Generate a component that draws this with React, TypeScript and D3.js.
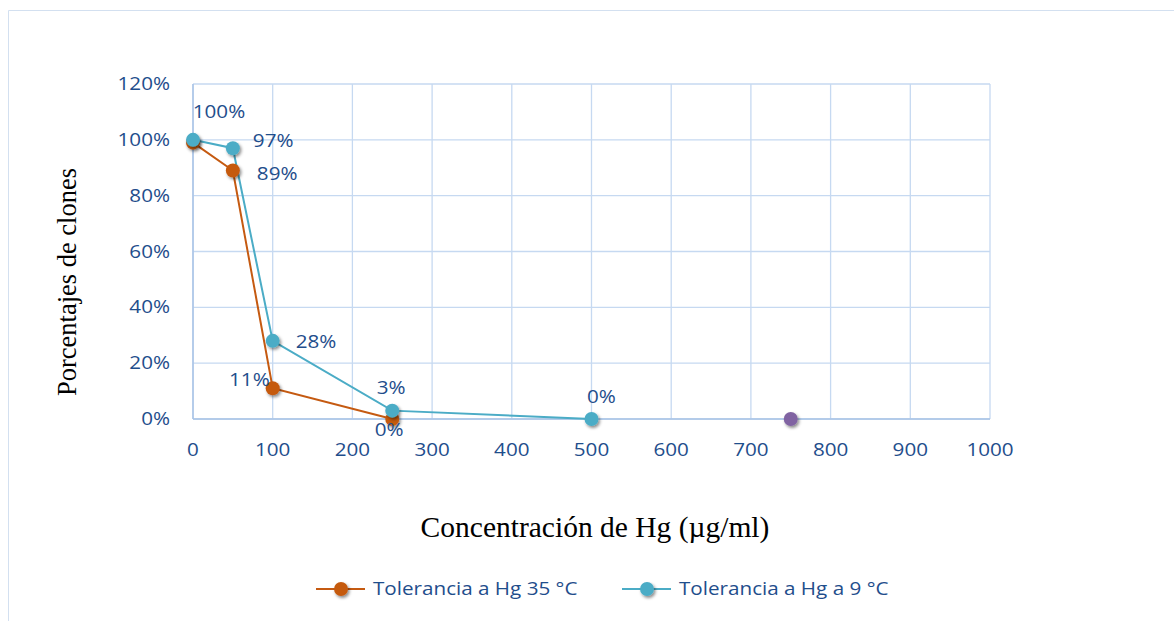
import React from "react";
import * as d3 from "d3";

const xTicks = [0, 100, 200, 300, 400, 500, 600, 700, 800, 900, 1000];
const yTicks = [0, 0.2, 0.4, 0.6, 0.8, 1.0, 1.2];

const series35X = [0, 50, 100, 250];
const series35Y = [0.99, 0.89, 0.11, 0.0];
const series35Labels = ["", "89%", "11%", "0%"];

const series9X = [0, 50, 100, 250, 500];
const series9Y = [1.0, 0.97, 0.28, 0.03, 0.0];
const series9Labels = ["100%", "97%", "28%", "3%", "0%"];

const series3X = [750];
const series3Y = [0.0];

const legendNames = ["Tolerancia a Hg 35 °C", "Tolerancia a Hg a 9 °C"];

const W = 1174, H = 621;
const left = 193, right = 990, top = 84, bottom = 419;
const ORANGE = "#C55A11";
const TEAL = "#4BACC6";
const PURPLE = "#8064A2";
const TXT = "#1F4E8C";
const GRID = "#C6D9F1";
const FONT = "'Open Sans', sans-serif";
const FS = 17.5;
const SX = 1.18;

// label placements: dx, dy, anchor
const pos35 = [
  null,
  { dx: 24, dy: 3, a: "start" },
  { dx: -3, dy: -8, a: "end" },
  { dx: -3, dy: 11, a: "middle" },
];
const pos9 = [
  { dx: 26, dy: -28, a: "middle" },
  { dx: 20, dy: -7, a: "start" },
  { dx: 23, dy: 1, a: "start" },
  { dx: -1, dy: -23, a: "middle" },
  { dx: 10, dy: -22, a: "middle" },
];

function T(props: { x: number; y: number; anchor?: string; children: React.ReactNode }) {
  return (
    <text
      transform={`translate(${props.x},${props.y}) scale(${SX},1)`}
      dy="0.35em"
      textAnchor={(props.anchor || "start") as any}
      fontSize={FS}
      fill={TXT}
      fontFamily={FONT}
    >
      {props.children}
    </text>
  );
}

export default function App() {
  const x = d3.scaleLinear().domain([0, 1000]).range([left, right]);
  const y = d3.scaleLinear().domain([0, 1.2]).range([bottom, top]);
  const line = d3.line<[number, number]>().x(d => x(d[0])).y(d => y(d[1]));
  const d35 = series35X.map((v, i) => [v, series35Y[i]] as [number, number]);
  const d9 = series9X.map((v, i) => [v, series9Y[i]] as [number, number]);
  const d3s = series3X.map((v, i) => [v, series3Y[i]] as [number, number]);
  const pct = d3.format(".0%");

  return (
    <svg width={W} height={H} style={{ position: "absolute", left: 0, top: 0 }}>
      <defs>
        <filter id="sh" x="-50%" y="-50%" width="200%" height="200%">
          <feDropShadow dx="1.5" dy="2" stdDeviation="1.5" floodColor="#000" floodOpacity="0.45" />
        </filter>
      </defs>
      <rect x={0} y={0} width={W} height={H} fill="#fff" />
      <path d={`M8.5,${H} V10.5 H${W}`} fill="none" stroke="#D3E0F0" strokeWidth={1} />
      {xTicks.map(t => (
        <line key={"gx" + t} x1={x(t)} x2={x(t)} y1={top} y2={bottom} stroke={GRID} strokeWidth={1.3} />
      ))}
      {yTicks.map(t => (
        <line key={"gy" + t} x1={left} x2={right} y1={y(t)} y2={y(t)} stroke={GRID} strokeWidth={1.3} />
      ))}
      <line x1={left} x2={right} y1={bottom} y2={bottom} stroke="#A9C3E6" strokeWidth={1.5} />
      <line x1={left} x2={left} y1={top} y2={bottom} stroke="#A9C3E6" strokeWidth={1.5} />
      {yTicks.map(t => (
        <T key={"ty" + t} x={left - 23} y={y(t)} anchor="end">{pct(t)}</T>
      ))}
      {xTicks.map(t => (
        <T key={"tx" + t} x={x(t)} y={bottom + 31} anchor="middle">{t}</T>
      ))}
      <path d={line(d35) || ""} fill="none" stroke={ORANGE} strokeWidth={2} />
      <path d={line(d9) || ""} fill="none" stroke={TEAL} strokeWidth={2} />
      {d35.map((p, i) => (
        <circle key={"c35" + i} cx={x(p[0])} cy={y(p[1])} r={7} fill={ORANGE} filter="url(#sh)" />
      ))}
      {d9.map((p, i) => (
        <circle key={"c9" + i} cx={x(p[0])} cy={y(p[1])} r={7} fill={TEAL} filter="url(#sh)" />
      ))}
      {d3s.map((p, i) => (
        <circle key={"c3" + i} cx={x(p[0])} cy={y(p[1])} r={7} fill={PURPLE} filter="url(#sh)" />
      ))}
      {d35.map((p, i) => {
        const ps = pos35[i];
        if (!ps || !series35Labels[i]) return null;
        return (
          <T key={"l35" + i} x={x(p[0]) + ps.dx} y={y(p[1]) + ps.dy} anchor={ps.a}>{series35Labels[i]}</T>
        );
      })}
      {d9.map((p, i) => {
        const ps = pos9[i];
        return (
          <T key={"l9" + i} x={x(p[0]) + ps.dx} y={y(p[1]) + ps.dy} anchor={ps.a}>{series9Labels[i]}</T>
        );
      })}
      <text transform={`translate(76,282) rotate(-90)`} textAnchor="middle" fontSize={26.5} fill="#000" fontFamily="'Liberation Serif', serif">Porcentajes de clones</text>
      <text x={595} y={537} textAnchor="middle" fontSize={29.5} fill="#000" fontFamily="'Liberation Serif', serif">Concentración de Hg (µg/ml)</text>
      {[ORANGE, TEAL].map((c, i) => {
        const lx = i === 0 ? 316 : 622;
        return (
          <g key={"lg" + i}>
            <line x1={lx} x2={lx + 49} y1={589} y2={589} stroke={c} strokeWidth={2} />
            <circle cx={lx + 25} cy={589} r={7} fill={c} filter="url(#sh)" />
            <T x={lx + 57} y={589}>{legendNames[i]}</T>
          </g>
        );
      })}
    </svg>
  );
}
